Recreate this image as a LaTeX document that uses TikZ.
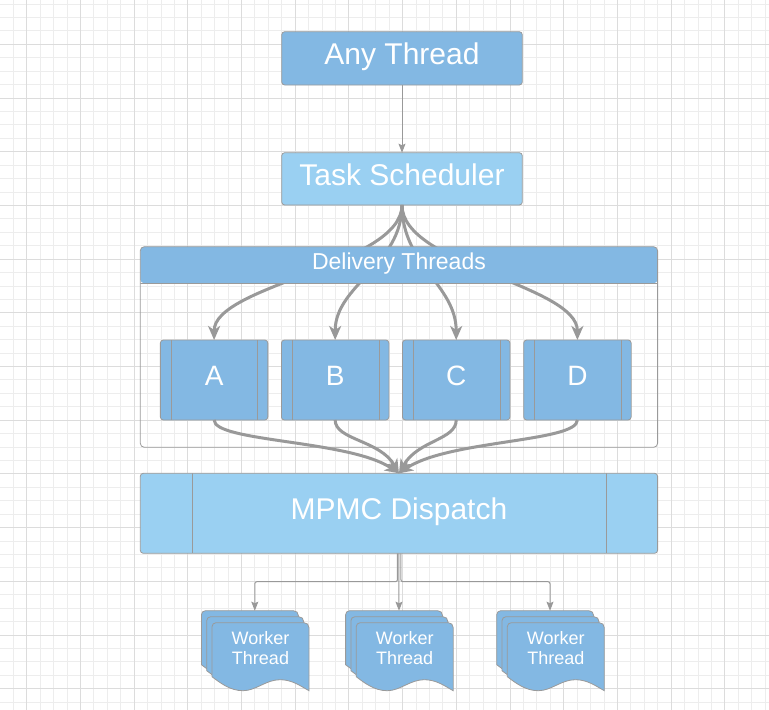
\documentclass[tikz,border=0pt]{standalone}
\usepackage{fontspec}
\setmainfont{Liberation Sans}
\usetikzlibrary{arrows.meta}
\definecolor{midblue}{HTML}{83B8E3}
\definecolor{lightblue}{HTML}{9AD0F2}
\definecolor{bordercol}{HTML}{9A9A9A}
\definecolor{arrowcol}{HTML}{999999}
\definecolor{gridminor}{HTML}{EDEDED}
\definecolor{gridmajor}{HTML}{DCDCDC}
\begin{document}
\begin{tikzpicture}[x=1pt,y=-1pt,
  box/.style={draw=bordercol, line width=0.8pt, rounded corners=3pt, inner sep=0pt, outer sep=0pt, text=white, align=center},
  bigtext/.style={font=\fontsize{30}{36}\selectfont},
  lettertext/.style={font=\fontsize{28}{34}\selectfont, text height=20pt, text depth=8.6pt},
  thread/.style={box, fill=midblue, lettertext, minimum width=107.5pt, minimum height=80pt,
    path picture={\draw[bordercol, line width=0.8pt]
      ([xshift=11pt]path picture bounding box.north west) -- ([xshift=11pt]path picture bounding box.south west)
      ([xshift=-10pt]path picture bounding box.north east) -- ([xshift=-10pt]path picture bounding box.south east);}},
  thickarrow/.style={draw=arrowcol, line width=3pt, -{Stealth[length=14pt, width=12pt, inset=4pt]}},
  thinarrow/.style={draw=arrowcol, line width=1pt, -{Stealth[length=9pt, width=7pt, inset=1.5pt]}},
  docsty/.style={fill=midblue, draw=bordercol, line width=0.8pt},
  wtext/.style={text=white, align=center, inner sep=0pt, font=\fontsize{18}{19.3}\selectfont}
]
\useasboundingbox (0,0) rectangle (769,710);
\fill[white] (0,0) rectangle (769,710);
% grid
\foreach \i in {0,...,57} \draw[gridminor, line width=0.9pt] ({13.275+13.425*\i},0) -- ({13.275+13.425*\i},710);
\foreach \j in {0,...,52} \draw[gridminor, line width=0.9pt] (0,{4.025+13.425*\j}) -- (769,{4.025+13.425*\j});
\foreach \i in {0,...,14} \draw[gridmajor, line width=0.9pt] ({26.7+53.7*\i},0) -- ({26.7+53.7*\i},710);
\foreach \j in {0,...,12} \draw[gridmajor, line width=0.9pt] (0,{44.3+53.7*\j}) -- (769,{44.3+53.7*\j});

% top boxes
\node[box, fill=midblue, bigtext, minimum width=240.6pt, minimum height=53.3pt, text height=21pt, text depth=9.1pt] (at) at (402,58.35) {Any Thread};
\node[box, fill=lightblue, bigtext, minimum width=240.6pt, minimum height=52.3pt, text height=21pt, text depth=7.3pt] (ts) at (402,178.85) {Task Scheduler};
\draw[thinarrow] (at.south) -- (ts.north);

% delivery thread boxes
\node[thread] (a) at (214.1,380) {A};
\node[thread] (b) at (335.15,380) {B};
\node[thread] (c) at (456.2,380) {C};
\node[thread] (d) at (577.4,380) {D};

% dispatch
\node[box, fill=lightblue, bigtext, minimum width=517.3pt, minimum height=80pt, text height=21pt, text depth=9.6pt,
  path picture={\draw[bordercol, line width=0.8pt]
    ([xshift=52.5pt]path picture bounding box.north west) -- ([xshift=52.5pt]path picture bounding box.south west)
    ([xshift=-51.4pt]path picture bounding box.north east) -- ([xshift=-51.4pt]path picture bounding box.south east);}]
  (mpmc) at (398.95,513.3) {MPMC Dispatch};

% fan-out curves
\draw[thickarrow] (ts.south) .. controls (402,265) and (214.1,285) .. (a.north);
\draw[thickarrow] (ts.south) .. controls (402,265) and (335.15,285) .. (b.north);
\draw[thickarrow] (ts.south) .. controls (402,265) and (456.2,285) .. (c.north);
\draw[thickarrow] (ts.south) .. controls (402,265) and (577.4,285) .. (d.north);

% fan-in curves
\draw[thickarrow] (a.south) .. controls (214.1,442) and (350,440) .. (mpmc.north);
\draw[thickarrow] (b.south) .. controls (335.15,440) and (380,440) .. (mpmc.north);
\draw[thickarrow] (c.south) .. controls (456.2,440) and (418,440) .. (mpmc.north);
\draw[thickarrow] (d.south) .. controls (577.4,442) and (448,440) .. (mpmc.north);

% container with header band
\node[draw=bordercol, line width=0.8pt, rounded corners=4pt, inner sep=0pt, minimum width=517.3pt, minimum height=200.6pt,
  path picture={\fill[midblue] (path picture bounding box.north west) rectangle ([yshift=-36.6pt]path picture bounding box.north east);
    \draw[bordercol, line width=0.8pt] ([yshift=-36.6pt]path picture bounding box.north west) -- ([yshift=-36.6pt]path picture bounding box.north east);}]
  (dt) at (398.95,347) {};
\node[text=white, inner sep=0pt, font=\fontsize{23}{28}\selectfont, text height=16.5pt, text depth=7.9pt] (dth) at (398.95,265) {Delivery Threads};

% worker documents
\foreach \wx/\n in {212/1, 356.2/2, 507.3/3} {
  \foreach \d in {2,1,0} {
    \begin{scope}[shift={({\wx-5.3*\d},{622.7-6*\d})}]
      \path[docsty] (0,54) -- (0,4) .. controls (0,1.8) and (1.8,0) .. (4,0) -- (92,0) .. controls (95,0) and (97,2) .. (97,5) -- (97,68)
        .. controls (88,63) and (80,57) .. (68,57) .. controls (54,57) and (44,68) .. (31,68) .. controls (18,68) and (8,60) .. (0,54) -- cycle;
    \end{scope}
  }
  \node[wtext] (wt\n) at ({\wx+48.5},648.2) {Worker\\Thread};
}
\coordinate (w1top) at (254.8,610.7);
\coordinate (w2top) at (399,610.7);
\coordinate (w3top) at (550,610.7);

% dispatch to workers
\draw[thinarrow, rounded corners=2pt] ([xshift=-1.5pt]mpmc.south) -- ++(0,28.4) -| (w1top);
\draw[thinarrow] (mpmc.south) -- (w2top);
\draw[thinarrow, rounded corners=2pt] ([xshift=2pt]mpmc.south) -- ++(0,28.4) -| (w3top);
\end{tikzpicture}
\end{document}
